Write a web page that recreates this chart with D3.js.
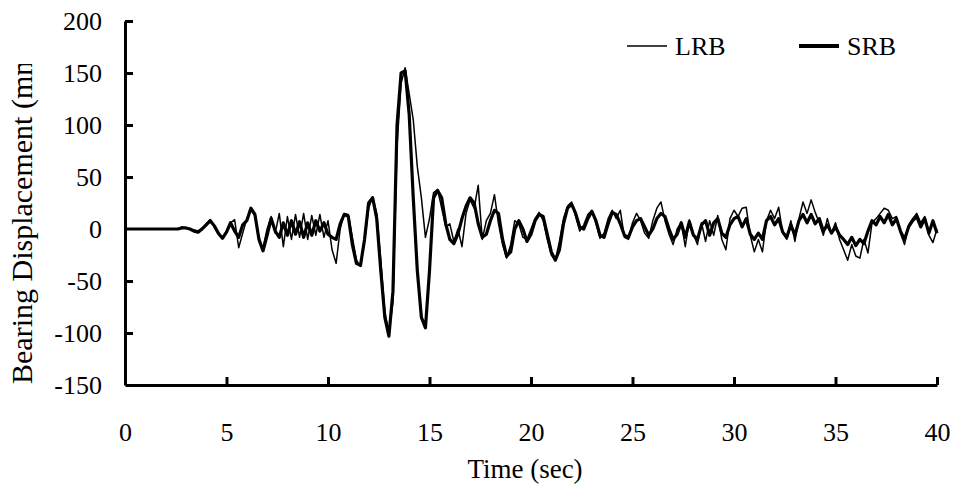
<html>
<head>
<meta charset="utf-8">
<script src="https://d3js.org/d3.v7.min.js"></script>
<style>
	body { margin: 0; background: #fff; }
	text { font-family: "Liberation Serif", "Times New Roman", Times, serif; fill: #000; }
</style>
</head>
<body>
<script type="text/javascript">
	// samples every 0.2 sec from 0 to 40 sec
	var dt = 0.2;

	var lrb = [
		0,0,0,0,0,0,0,0,0,0,
		0,0,0,0,2,1,0,-1,-2,1,
		5,9,2,-5,-8,-2,6,9,-18,-4,
		10,18,13,-12,-18,0,12,-4,15,-17,
		12,-10,14,-8,15,-10,13,-6,14,-8,
		8,-20,-33,0,15,14,-8,-30,-36,-12,
		20,31,15,-30,-80,-100,-70,80,140,155,
		130,105,60,30,-8,10,35,38,20,2,
		5,-12,0,-17,15,28,20,42,-10,8,
		15,33,5,-15,-28,-15,8,5,-8,-10,
		0,10,16,8,-10,-25,-30,-12,10,22,
		26,12,-2,4,14,18,5,-9,-4,10,
		18,10,18,-8,-10,6,15,8,-4,-9,
		8,20,26,8,-5,-15,0,6,-17,9,
		-5,-15,6,-12,8,-6,13,-10,-20,10,
		18,12,20,21,-6,-22,-10,-22,8,18,
		10,21,-4,-10,8,-12,10,26,15,28,
		16,6,-6,10,-4,6,-10,-20,-30,-15,
		-26,-28,-10,-23,6,10,15,20,18,10,
		12,-4,-15,4,10,15,6,12,-6,-13,
		0
	];

	var srb = [
		0,0,0,0,0,0,0,0,0,0,
		0,0,0,0,1,1,0,-2,-3,0,
		4,8,3,-4,-9,-3,6,-2,-8,4,
		8,20,14,-10,-21,-6,10,-2,-8,6,
		-6,8,-5,7,-8,6,-6,8,-2,6,
		-5,-8,-10,5,14,12,-15,-33,-35,-10,
		25,30,10,-40,-85,-103,-60,100,150,152,
		110,30,-40,-85,-95,-40,30,37,30,5,
		-10,-14,-5,10,22,30,25,5,-8,-5,
		8,18,15,-10,-26,-22,0,8,0,-12,
		-5,8,14,12,-5,-22,-30,-20,5,20,
		24,15,2,0,10,17,8,-6,-8,5,
		16,14,5,-6,-8,2,8,10,2,-6,
		0,10,15,12,0,-10,-5,6,-8,7,
		-6,-10,4,8,-6,6,10,-4,-8,4,
		10,12,2,10,-5,-10,-4,-10,8,12,
		4,10,-3,-8,4,-6,8,14,6,14,
		5,10,-2,4,-4,2,-6,-10,-15,-8,
		-16,-10,-14,-2,8,4,12,6,14,4,
		10,-2,-10,2,8,12,2,10,-4,8,
		-4
	];

	var xTicks = [0, 5, 10, 15, 20, 25, 30, 35, 40];
	var yTicks = [-150, -100, -50, 0, 50, 100, 150, 200];
	var seriesNames = ["LRB", "SRB"];

	var W = 968, H = 492;
	var svg = d3.select("body").append("svg")
	            .attr("width", W)
	            .attr("height", H);

	var x = d3.scaleLinear().domain([0, 40]).range([125, 937]);
	var y = d3.scaleLinear().domain([-150, 200]).range([385, 21]);

	var line = d3.line()
	             .x(function (d, i) { return x(i * dt); })
	             .y(function (d) { return y(d); });

	// axes: ticks point inward, plain hyphen for negatives
	var fmt = function (d) { return String(d); };
	var xAxis = svg.append("g")
	               .attr("transform", "translate(0," + y(-150) + ")")
	               .call(d3.axisBottom(x).tickValues(xTicks).tickFormat(fmt).tickSize(-8).tickPadding(38).tickSizeOuter(0));
	var yAxis = svg.append("g")
	               .attr("transform", "translate(" + x(0) + ",0)")
	               .call(d3.axisLeft(y).tickValues(yTicks).tickFormat(fmt).tickSize(-8).tickPadding(23).tickSizeOuter(0));

	[xAxis, yAxis].forEach(function (g) {
		g.attr("font-family", null).attr("font-size", null);
		g.select(".domain").attr("stroke", "#000").attr("stroke-width", 3);
		g.selectAll(".tick line").attr("stroke", "#000").attr("stroke-width", 3);
		g.selectAll(".tick text").style("font-size", "26px");
	});
	xAxis.selectAll(".tick").filter(function (d) { return d === 0; }).select("line").remove();
	yAxis.selectAll(".tick").filter(function (d) { return d === -150 || d === 0; }).select("line").remove();

	// series
	svg.append("path")
	   .attr("d", line(lrb))
	   .attr("fill", "none")
	   .attr("stroke", "#000")
	   .attr("stroke-width", 1.5)
	   .attr("stroke-linejoin", "round");
	svg.append("path")
	   .attr("d", line(srb))
	   .attr("fill", "none")
	   .attr("stroke", "#000")
	   .attr("stroke-width", 3.2)
	   .attr("stroke-linejoin", "round");

	// axis titles
	svg.append("text")
	   .attr("x", 525).attr("y", 478)
	   .attr("text-anchor", "middle")
	   .style("font-size", "27px")
	   .text("Time (sec)");

	// the y title is cut off at the top in the original
	svg.append("clipPath").attr("id", "ylab")
	   .append("rect").attr("x", 0).attr("y", 64).attr("width", 60).attr("height", 400);
	svg.append("g")
	   .attr("clip-path", "url(#ylab)")
	   .append("text")
	   .attr("transform", "translate(32,384) rotate(-90)")
	   .style("font-size", "30px")
	   .text("Bearing Displacement (mm)");

	// legend
	var legend = svg.append("g");
	var legX = [627, 799];
	var legW = [1.5, 4];
	seriesNames.forEach(function (name, i) {
		legend.append("line")
		      .attr("x1", legX[i]).attr("x2", legX[i] + 40)
		      .attr("y1", 46).attr("y2", 46)
		      .attr("stroke", "#000")
		      .attr("stroke-width", legW[i]);
		legend.append("text")
		      .attr("x", legX[i] + 48).attr("y", 55)
		      .style("font-size", "26px")
		      .text(name);
	});
</script>
</body>
</html>
